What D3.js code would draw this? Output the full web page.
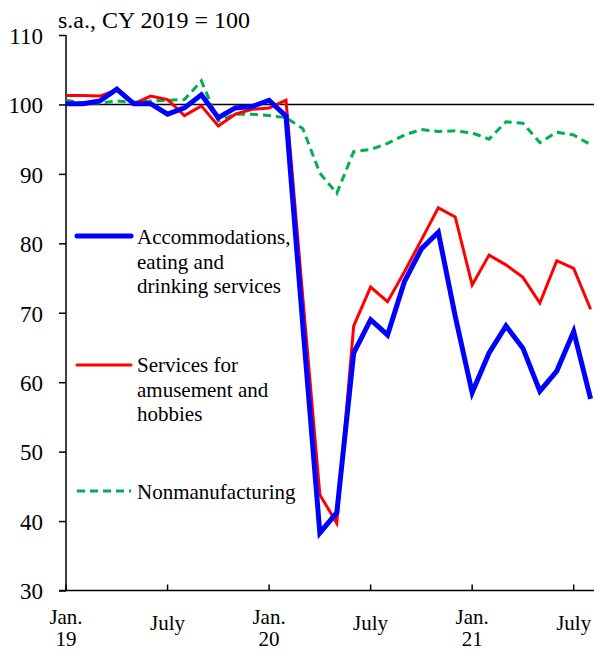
<!DOCTYPE html>
<html>
<head>
<meta charset="utf-8">
<script src="https://cdn.jsdelivr.net/npm/d3@7"></script>
<style>
  body { margin: 0; background: #fff; }
  svg text { font-family: "Liberation Serif", "Times New Roman", serif; fill: #000; }
</style>
</head>
<body>
<div id="chart"></div>
<script>
// monthly, Jan. 2019 - Aug. 2021 (s.a., CY 2019 = 100)
var months = d3.range(32);
var accommodations = [100.1, 100.1, 100.5, 102.2, 100.1, 100.1, 98.6, 99.5, 101.4, 98.1, 99.5, 99.7,
  100.6, 98.3, 68.0, 38.3, 41.2, 64.2, 69.0, 66.8, 74.5, 79.2, 81.6, 69.5,
  58.5, 64.2, 68.1, 64.9, 58.7, 61.6, 67.3, 57.6];
var amusement = [101.3, 101.3, 101.2, 102.1, 100.1, 101.2, 100.7, 98.4, 99.8, 96.9, 98.6, 99.3,
  99.5, 100.6, 72.0, 43.8, 39.7, 68.1, 73.7, 71.6, 75.9, 80.5, 85.1, 83.8,
  74.0, 78.3, 76.9, 75.1, 71.4, 77.5, 76.4, 70.5];
var nonmanufacturing = [100.6, 100.2, 100.2, 100.5, 100.3, 100.5, 100.6, 100.7, 103.4, 97.6, 98.6, 98.6,
  98.4, 98.1, 96.5, 90.1, 87.2, 93.2, 93.5, 94.4, 95.6, 96.4, 96.1, 96.2,
  95.9, 95.0, 97.5, 97.3, 94.5, 96.0, 95.6, 94.2];
var yTicks = [30, 40, 50, 60, 70, 80, 90, 100, 110];
var xTickMonths = [0, 6, 12, 18, 24, 30];
var xTickLabels = [["Jan.", "19"], ["July"], ["Jan.", "20"], ["July"], ["Jan.", "21"], ["July"]];

var width = 596, height = 652;

var svg = d3.select("#chart").append("svg")
  .attr("width", width)
  .attr("height", height);

var x = d3.scaleLinear().domain([0, 31.2]).range([66, 594]);
var y = d3.scaleLinear().domain([30, 110]).range([590.5, 35]);

// title
svg.append("text")
  .attr("x", 58).attr("y", 28)
  .style("font-size", "24px")
  .text("s.a., CY 2019 = 100");

// y axis
var yAxis = svg.append("g")
  .attr("transform", "translate(66,0)")
  .call(d3.axisLeft(y).tickValues(yTicks).tickSize(7).tickPadding(16).tickFormat(d3.format("d")));
yAxis.select(".domain").remove();
yAxis.selectAll("line").attr("stroke", "#000").attr("stroke-width", 1.5);
yAxis.selectAll("text").style("font-size", "23px").attr("dy", "0.36em");
svg.append("line")
  .attr("x1", 66).attr("x2", 66)
  .attr("y1", y(110)).attr("y2", y(30))
  .attr("stroke", "#000").attr("stroke-width", 1.5);

// x axis
svg.append("line")
  .attr("x1", 59).attr("x2", 594)
  .attr("y1", y(30)).attr("y2", y(30))
  .attr("stroke", "#000").attr("stroke-width", 1.5);
svg.selectAll(".xtick")
  .data(xTickMonths)
  .enter().append("line")
  .attr("x1", function (d) { return x(d); })
  .attr("x2", function (d) { return x(d); })
  .attr("y1", y(30)).attr("y2", y(30) - 6)
  .attr("stroke", "#000").attr("stroke-width", 1.5);

var xl = svg.selectAll(".xlab")
  .data(xTickMonths)
  .enter().append("text")
  .attr("text-anchor", "middle")
  .style("font-size", "21px")
  .attr("transform", function (d, i) {
    return "translate(" + x(d) + "," + (xTickLabels[i].length == 1 ? 630 : 624) + ")";
  });
xl.selectAll("tspan")
  .data(function (d, i) { return xTickLabels[i]; })
  .enter().append("tspan")
  .attr("x", 0)
  .attr("dy", function (d, j) { return j == 0 ? 0 : 22; })
  .text(function (d) { return d; });

// 100 reference line
svg.append("line")
  .attr("x1", 66).attr("x2", 594)
  .attr("y1", y(100)).attr("y2", y(100))
  .attr("stroke", "#000").attr("stroke-width", 1.5);

var line = d3.line()
  .x(function (d, i) { return x(i); })
  .y(function (d) { return y(d); });

var series = [
  { values: nonmanufacturing, color: "#00B050", width: 3, dash: "8,5" },
  { values: amusement, color: "#FF0000", width: 3, dash: null },
  { values: accommodations, color: "#0000FF", width: 5, dash: null }
];

svg.selectAll(".series")
  .data(series)
  .enter().append("path")
  .attr("d", function (d) { return line(d.values); })
  .attr("fill", "none")
  .attr("stroke", function (d) { return d.color; })
  .attr("stroke-width", function (d) { return d.width; })
  .attr("stroke-dasharray", function (d) { return d.dash; })
  .attr("stroke-linejoin", "miter");

// legend
var legend = [
  { color: "#0000FF", width: 5, dash: null, ly: 236, lines: ["Accommodations,", "eating and", "drinking services"], ty: 244 },
  { color: "#FF0000", width: 3, dash: null, ly: 365, lines: ["Services for", "amusement and", "hobbies"], ty: 372 },
  { color: "#00B050", width: 3, dash: "8,5", ly: 491, lines: ["Nonmanufacturing"], ty: 499 }
];

legend.forEach(function (d) {
  svg.append("line")
    .attr("x1", 77).attr("x2", 131)
    .attr("y1", d.ly).attr("y2", d.ly)
    .attr("stroke", d.color)
    .attr("stroke-width", d.width)
    .attr("stroke-linecap", d.dash ? "butt" : "round")
    .attr("stroke-dasharray", d.dash);
  var t = svg.append("text")
    .attr("x", 137).attr("y", d.ty)
    .style("font-size", "21px");
  t.selectAll("tspan")
    .data(d.lines)
    .enter().append("tspan")
    .attr("x", 137)
    .attr("dy", function (s, j) { return j == 0 ? 0 : 24.5; })
    .text(function (s) { return s; });
});
</script>
</body>
</html>
